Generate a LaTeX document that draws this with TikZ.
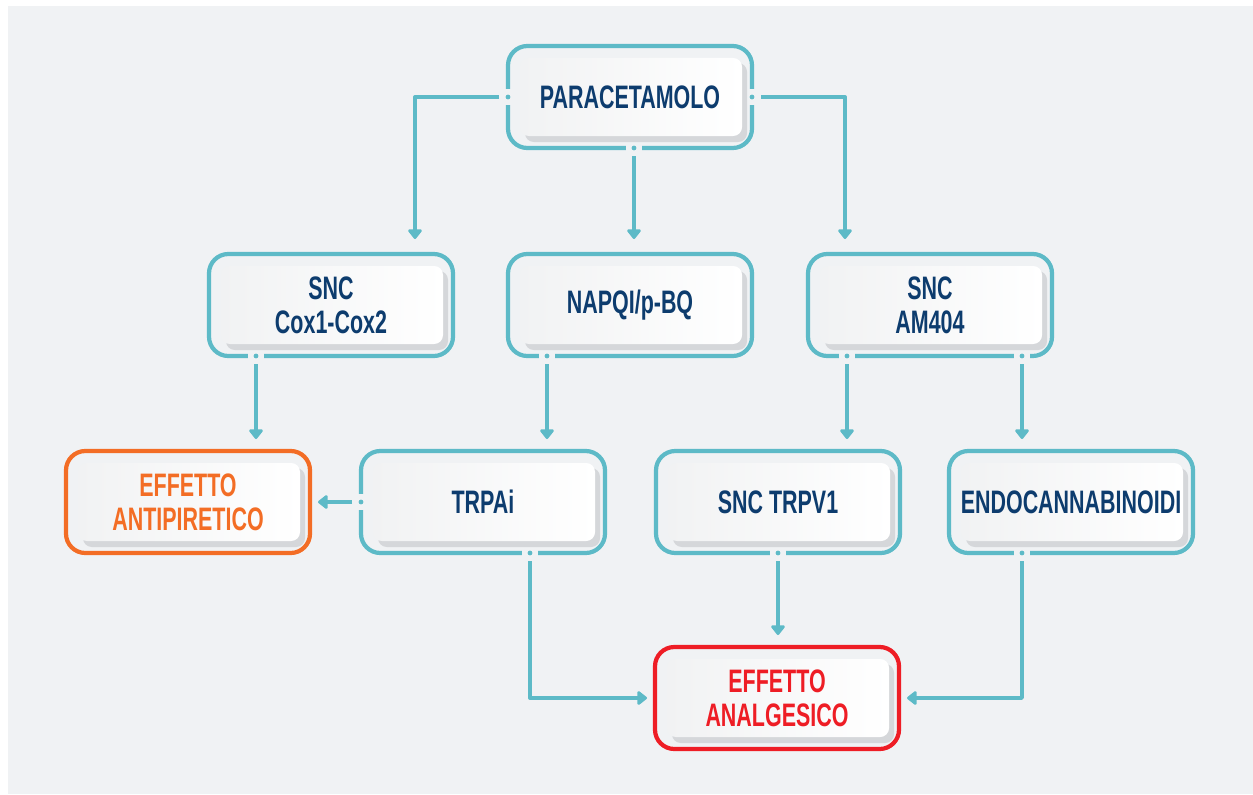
\documentclass[tikz,border=0pt]{standalone}
\usepackage{fontspec}
\setmainfont{Liberation Sans}[FakeStretch=0.66]
\usetikzlibrary{calc,arrows.meta}
\pgfdeclarelayer{bg}
\pgfsetlayers{bg,main}
\definecolor{panelc}{HTML}{F0F2F4}
\definecolor{tealc}{HTML}{5DBAC7}
\definecolor{navyc}{HTML}{0D3C6E}
\definecolor{orangec}{HTML}{F36D25}
\definecolor{redc}{HTML}{EE1D25}
\definecolor{shadowc}{HTML}{D5D7DA}
\definecolor{cardl}{HTML}{F1F2F3}
\tikzset{
  outerbox/.style={draw=tealc, line width=2.4pt, rounded corners=11pt,
    minimum width=244*0.02cm, minimum height=102*0.02cm, outer sep=0pt,
    inner sep=0pt, align=center, text=navyc,
    font=\bfseries\fontsize{18.5}{19.5}\selectfont},
  conn/.style={draw=tealc, line width=1.9pt, line join=round,
    -{Triangle[width=9pt,length=6pt,round]}},
}
\newcommand\mybox[5]{%
  \node[outerbox, draw=#4, text=#5] (#1) at (#2) {#3};
  \begin{pgfonlayer}{bg}
    \fill[shadowc, rounded corners=5pt] ($(#1.south west)+(17,-6)$) rectangle ($(#1.north east)+(-5,17)$);
    \shade[left color=cardl, right color=white, rounded corners=5pt] ($(#1.south west)+(12,-12)$) rectangle ($(#1.north east)+(-10,12)$);
  \end{pgfonlayer}}
\newcommand\gapv[1]{\fill[panelc] ($(#1)+(-4,-8)$) rectangle ($(#1)+(4,8)$);
  \fill[tealc] (#1) circle[radius=2.4];}
\newcommand\gaph[1]{\fill[panelc] ($(#1)+(-8,-4)$) rectangle ($(#1)+(8,4)$);
  \fill[tealc] (#1) circle[radius=2.4];}
\begin{document}
\begin{tikzpicture}[x=0.02cm, y=-0.02cm]
\useasboundingbox (0,0) rectangle (1253,794);
\begin{pgfonlayer}{bg}
  \fill[white] (0,0) rectangle (1253,794);
  \fill[panelc] (8,6) rectangle (1253,794);
\end{pgfonlayer}
\mybox{para}{630,97}{PARACETAMOLO}{tealc}{navyc}
\mybox{cox}{331,305}{SNC\\Cox1-Cox2}{tealc}{navyc}
\mybox{napqi}{630,305}{NAPQI/p-BQ}{tealc}{navyc}
\mybox{am}{930,305}{SNC\\AM404}{tealc}{navyc}
\mybox{anti}{188,502}{EFFETTO\\ANTIPIRETICO}{orangec}{orangec}
\mybox{trpa}{483,502}{TRPAi}{tealc}{navyc}
\mybox{trpv}{778,502}{SNC TRPV1}{tealc}{navyc}
\mybox{endo}{1071,502}{ENDOCANNABINOIDI}{tealc}{navyc}
\mybox{anal}{777,698}{EFFETTO\\ANALGESICO}{redc}{redc}
% exit points
\coordinate (e1) at (para.west);
\coordinate (e2) at ($(para.south)+(4,0)$);
\coordinate (e3) at (para.east);
\coordinate (e4) at ($(cox.south)+(-75,0)$);
\coordinate (e5) at ($(napqi.south)+(-83,0)$);
\coordinate (e6) at ($(am.south)+(-83,0)$);
\coordinate (e7) at ($(am.south)+(92,0)$);
\coordinate (e8) at (trpa.west);
\coordinate (e9) at ($(trpa.south)+(47,0)$);
\coordinate (e10) at (trpv.south);
\coordinate (e11) at ($(endo.south)+(-49,0)$);
\gapv{e1}\gaph{e2}\gapv{e3}\gaph{e4}\gaph{e5}\gaph{e6}\gaph{e7}
\gapv{e8}\gaph{e9}\gaph{e10}\gaph{e11}
% connectors
\draw[conn] ($(e1)+(-9,0)$) -| ($(cox.north)+(84,-15)$);
\draw[conn] ($(e2)+(0,8)$) -- ($(napqi.north)+(4,-15)$);
\draw[conn] ($(e3)+(9,0)$) -| ($(am.north)+(-85,-15)$);
\draw[conn] ($(e4)+(0,8)$) -- ($(anti.north)+(68,-12)$);
\draw[conn] ($(e5)+(0,8)$) -- ($(trpa.north)+(64,-12)$);
\draw[conn] ($(e6)+(0,8)$) -- ($(trpv.north)+(69,-12)$);
\draw[conn] ($(e7)+(0,8)$) -- ($(endo.north)+(-49,-12)$);
\draw[conn] ($(e8)+(-9,0)$) -- ($(anti.east)+(8,0)$);
\draw[conn] ($(e9)+(0,8)$) |- ($(anal.west)+(-8,0)$);
\draw[conn] ($(e10)+(0,8)$) -- ($(anal.north)+(1,-12)$);
\draw[conn] ($(e11)+(0,8)$) |- ($(anal.east)+(8,0)$);
\end{tikzpicture}
\end{document}
